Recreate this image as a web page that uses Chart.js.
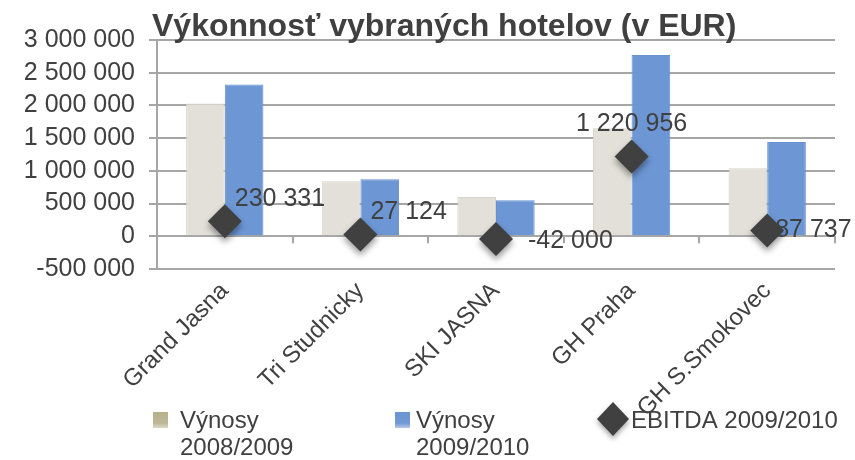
<!DOCTYPE html>
<html>
<head>
<meta charset="utf-8">
<script src="https://cdn.jsdelivr.net/npm/chart.js@4/dist/chart.umd.min.js"></script>
<style>
  html, body { margin: 0; padding: 0; background: #fff; }
  #wrap { width: 855px; height: 460px; position: relative; }
</style>
</head>
<body>
<div id="wrap"><canvas id="hotelChart"></canvas></div>
<script>
const hotels = ['Grand Jasna', 'Tri Studnicky', 'SKI JASNA', 'GH Praha', 'GH S.Smokovec'];
const vynosy0809 = [2030000, 840000, 600000, 1650000, 1040000];
const vynosy0910 = [2320000, 870000, 550000, 2770000, 1440000];
const ebitda0910 = [230331, 27124, -42000, 1220956, 87737];
const seriesNames = [['Výnosy', '2008/2009'], ['Výnosy', '2009/2010'], ['EBITDA 2009/2010']];
const yTicks = [-500000, 0, 500000, 1000000, 1500000, 2000000, 2500000, 3000000];

const FONT = '"Liberation Sans", Arial, sans-serif';
const TXT = '#404040';
const GRID = '#a6a6a6';

const fmt = v => (v < 0 ? '-' : '') + String(Math.abs(v)).replace(/\B(?=(\d{3})+(?!\d))/g, ' ');

// label offsets relative to the diamond (dx, dy, align)
const labelPos = [[10, -22, 'left'], [10, -22, 'left'], [32, 2, 'left'], [0, -32, 'center'], [8, 0, 'left']];

const extras = {
  id: 'extras',
  beforeDatasetDraw(chart, args) {
    if (args.index === 2) {
      const c = chart.ctx;
      c.save();
      c.shadowColor = 'rgba(0,0,0,0.4)';
      c.shadowBlur = 6;
      c.shadowOffsetY = 4;
    }
  },
  afterDatasetDraw(chart, args) {
    if (args.index === 2) chart.ctx.restore();
  },
  afterDraw(chart) {
    const c = chart.ctx;
    const area = chart.chartArea;
    const y = chart.scales.y;
    const y0 = y.getPixelForValue(0);
    c.save();
    // category ticks on zero line
    c.strokeStyle = GRID;
    c.lineWidth = 2;
    const n = hotels.length;
    for (let i = 1; i <= n; i++) {
      const px = Math.round(area.left + (area.right - area.left) * i / n);
      c.beginPath();
      c.moveTo(px, y0);
      c.lineTo(px, y0 + 7);
      c.stroke();
    }
    // title
    c.fillStyle = TXT;
    c.font = 'bold 32px ' + FONT;
    c.textAlign = 'left';
    c.textBaseline = 'alphabetic';
    c.fillText('Výkonnosť vybraných hotelov (v EUR)', 152, 36);
    // data labels
    c.font = '25px ' + FONT;
    c.textBaseline = 'middle';
    const meta = chart.getDatasetMeta(2);
    meta.data.forEach((pt, i) => {
      const p = labelPos[i];
      c.textAlign = p[2];
      c.fillText(fmt(ebitda0910[i]), pt.x + p[0], pt.y + p[1]);
    });
    // legend
    c.font = '24px ' + FONT;
    c.textAlign = 'left';
    const g1 = c.createLinearGradient(0, 412, 0, 428);
    g1.addColorStop(0, '#b6b08c');
    g1.addColorStop(0.7, '#bdb796');
    g1.addColorStop(1, '#ddd9c6');
    c.fillStyle = g1;
    c.fillRect(153, 412, 15, 16);
    const g2 = c.createLinearGradient(0, 412, 0, 428);
    g2.addColorStop(0, '#6a93d2');
    g2.addColorStop(0.7, '#7099d5');
    g2.addColorStop(1, '#b4c8ea');
    c.fillStyle = g2;
    c.fillRect(395, 412, 15, 16);
    c.save();
    c.shadowColor = 'rgba(0,0,0,0.35)';
    c.shadowBlur = 5;
    c.shadowOffsetY = 3;
    c.fillStyle = '#404040';
    c.beginPath();
    c.moveTo(613, 402);
    c.lineTo(629, 419);
    c.lineTo(613, 436);
    c.lineTo(597, 419);
    c.closePath();
    c.fill();
    c.restore();
    c.fillStyle = TXT;
    c.fillText(seriesNames[0][0], 180, 421);
    c.fillText(seriesNames[0][1], 180, 448);
    c.fillText(seriesNames[1][0], 416, 421);
    c.fillText(seriesNames[1][1], 416, 448);
    c.fillText(seriesNames[2][0], 631, 421);
    c.restore();
  }
};

new Chart(document.getElementById('hotelChart'), {
  type: 'bar',
  data: {
    labels: hotels,
    datasets: [
      {
        label: seriesNames[0].join(' '),
        data: vynosy0809,
        backgroundColor: '#e2e0d8',
        borderColor: '#d6d3c8',
        borderWidth: 1,
        categoryPercentage: 0.57,
        barPercentage: 1,
        order: 2
      },
      {
        label: seriesNames[1].join(' '),
        data: vynosy0910,
        backgroundColor: '#6c96d4',
        borderColor: '#6690d0',
        borderWidth: 1,
        categoryPercentage: 0.57,
        barPercentage: 1,
        order: 2
      },
      {
        type: 'line',
        label: seriesNames[2][0],
        data: ebitda0910,
        showLine: false,
        pointStyle: 'rectRot',
        pointRadius: 17,
        pointBackgroundColor: '#404040',
        pointBorderColor: '#404040',
        pointBorderWidth: 0,
        order: 1
      }
    ]
  },
  options: {
    responsive: true,
    maintainAspectRatio: false,
    animation: false,
    layout: { padding: { top: 40, right: 20, bottom: 0, left: 0 } },
    plugins: {
      legend: { display: false },
      tooltip: { enabled: false },
      title: { display: false }
    },
    scales: {
      x: {
        grid: { display: false },
        border: { display: false },
        ticks: {
          color: TXT,
          font: { family: FONT, size: 24 },
          minRotation: 45,
          maxRotation: 45,
          padding: 0
        },
        afterFit(scale) { scale.height = 191; }
      },
      y: {
        min: -500000,
        max: 3000000,
        afterBuildTicks(scale) { scale.ticks = yTicks.map(v => ({ value: v })); },
        grid: { color: GRID, lineWidth: 2, tickLength: 8 },
        border: { color: GRID, width: 2 },
        ticks: {
          autoSkip: false,
          color: TXT,
          font: { family: FONT, size: 25 },
          padding: 14,
          callback: v => fmt(v)
        },
        afterFit(scale) { scale.width = 157; }
      }
    }
  },
  plugins: [extras]
});
</script>
</body>
</html>
